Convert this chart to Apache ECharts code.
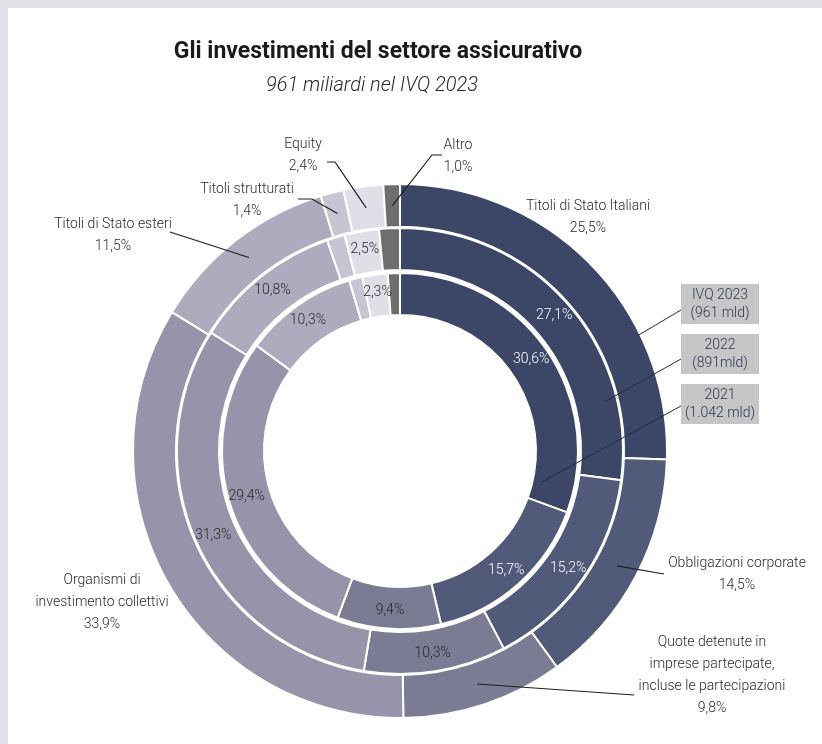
<!DOCTYPE html>
<html>
<head>
<meta charset="utf-8">
<script src="https://cdn.jsdelivr.net/npm/echarts@6/dist/echarts.min.js"></script>
<style>
html,body{margin:0;padding:0;background:#fff;}
#chart{width:822px;height:744px;}
</style>
</head>
<body>
<div id="chart"></div>
<script>
// ---- data ----
const categories = [
  'Titoli di Stato Italiani',
  'Obbligazioni corporate',
  'Quote detenute in\nimprese partecipate,\nincluse le partecipazioni',
  'Organismi di\ninvestimento collettivi',
  'Titoli di Stato esteri',
  'Titoli strutturati',
  'Equity',
  'Altro'
];
const values2023 = [25.5, 14.5, 9.8, 33.9, 11.5, 1.4, 2.4, 1.0];
const values2022 = [27.1, 15.2, 10.3, 31.3, 10.8, 1.3, 2.5, 1.5];
const values2021 = [30.6, 15.7, 9.4, 29.4, 10.3, 1.2, 2.3, 1.1];
const ringLabels = ['IVQ 2023\n(961 mld)', '2022\n(891mld)', '2021\n(1.042 mld)'];
const titleText = 'Gli investimenti del settore assicurativo';
const subtitleText = '961 miliardi nel IVQ 2023';

// ---- styles / layout ----
const colors = ['#3c4767', '#525a79', '#7c7b94', '#9594aa', '#adacbf', '#c6c5d3', '#e0dfe7', '#6e6e6e'];
const insideTextColor = ['#ffffff', '#ffffff', '#2a2a2a', '#2a2a2a', '#2a2a2a', '#2a2a2a', '#2a2a2a', '#2a2a2a'];
const hideInside = [false, false, false, false, false, true, false, true];
const FONT = "'Roboto', 'Liberation Sans', sans-serif";
const CX = 400, CY = 451;
const R_OUT = [224, 267], R_MID = [181, 223], R_IN = [136, 178];
// outer label block centres
const outerLabelPos = [[588, 217], [737, 574], [712, 675], [102, 602], [113, 235], [247, 200], [303, 155], [458, 156]];
// leader lines: elbow/end points (start is computed from data at the slice mid-angle)
const leaderPts = [null, [[664, 574]], [[634, 695]], null, [[170, 232]], [[312, 199], [298, 199]], [[335, 162], [327, 162]], [[432, 155], [442, 155]]];
// year callouts
const boxes = [
  {x: 681, y: 284, line: [[681, 310], [637, 336]]},
  {x: 681, y: 334, line: [[681, 359], [606, 401]]},
  {x: 681, y: 384, line: [[681, 406], [540, 483]]}
];

const fmt = v => v.toFixed(1).replace('.', ',') + '%';

function ringData(vals, inside) {
  return vals.map((v, i) => ({
    name: categories[i],
    value: v,
    itemStyle: {color: colors[i]},
    label: inside ? {show: !hideInside[i], color: insideTextColor[i]} : {}
  }));
}

const chart = echarts.init(document.getElementById('chart'), null, {renderer: 'canvas'});

const total = values2023.reduce((a, b) => a + b, 0);
const graphics = [];
graphics.push({type: 'rect', shape: {x: 0, y: 0, width: 822, height: 8}, style: {fill: '#e1e0e8'}, silent: true});
graphics.push({type: 'rect', shape: {x: 0, y: 0, width: 8, height: 744}, style: {fill: '#e1e0e8'}, silent: true});
let cum = 0;
const rMidOuter = (R_OUT[0] + R_OUT[1]) / 2;
values2023.forEach((v, i) => {
  const mid = (cum + v / 2) / total * Math.PI * 2;
  cum += v;
  if (!leaderPts[i]) return;
  const start = [CX + rMidOuter * Math.sin(mid), CY - rMidOuter * Math.cos(mid)];
  graphics.push({
    type: 'polyline', z: 100,
    shape: {points: [start].concat(leaderPts[i])},
    style: {stroke: '#1e1e1e', lineWidth: 1.2, fill: null}, silent: true
  });
});
boxes.forEach((b, k) => {
  graphics.push({
    type: 'polyline', z: 100,
    shape: {points: b.line},
    style: {stroke: '#1f2a4a', lineWidth: 1, fill: null}, silent: true
  });
  graphics.push({
    type: 'rect', z: 100, shape: {x: b.x, y: b.y, width: 78, height: 40},
    style: {fill: '#c6c6c6'}, silent: true
  });
  graphics.push({
    type: 'text', z: 101, x: b.x + 39, y: b.y + 20,
    style: {text: ringLabels[k], fill: '#2b3657', font: '300 14px ' + FONT, align: 'center', verticalAlign: 'middle', lineHeight: 18},
    silent: true
  });
});

const insideLabel = {
  show: true, position: 'inside', fontFamily: FONT, fontSize: 14, fontWeight: 300,
  formatter: p => fmt(p.value)
};

chart.setOption({
  backgroundColor: '#ffffff',
  animation: false,
  title: [
    {text: titleText, left: 373, top: 36, textAlign: 'center',
     textStyle: {fontFamily: FONT, fontWeight: 'bold', fontSize: 23, color: '#1a1a1a'}},
    {text: subtitleText, left: 367, top: 71, textAlign: 'center',
     textStyle: {fontFamily: FONT, fontStyle: 'italic', fontWeight: 300, fontSize: 20, color: '#2a2a2a'}}
  ],
  graphic: graphics,
  series: [
    {
      type: 'pie', name: '2023', center: [CX, CY], radius: R_OUT,
      startAngle: 90, clockwise: true, avoidLabelOverlap: false,
      itemStyle: {borderColor: '#fff', borderWidth: 2},
      label: {
        show: true, position: 'outside', fontFamily: FONT, fontSize: 14, fontWeight: 300, color: '#2a2a2a',
        lineHeight: 22, align: 'center',
        formatter: p => p.name + '\n' + fmt(p.value)
      },
      labelLine: {show: false},
      labelLayout: p => ({x: outerLabelPos[p.dataIndex][0], y: outerLabelPos[p.dataIndex][1], align: 'center', verticalAlign: 'middle'}),
      emphasis: {disabled: true},
      data: ringData(values2023, false)
    },
    {
      type: 'pie', name: '2022', center: [CX, CY], radius: R_MID,
      startAngle: 90, clockwise: true,
      itemStyle: {borderColor: '#fff', borderWidth: 2},
      label: insideLabel, labelLine: {show: false},
      emphasis: {disabled: true},
      data: ringData(values2022, true)
    },
    {
      type: 'pie', name: '2021', center: [CX, CY], radius: R_IN,
      startAngle: 90, clockwise: true,
      itemStyle: {borderColor: '#fff', borderWidth: 2},
      label: insideLabel, labelLine: {show: false},
      emphasis: {disabled: true},
      data: ringData(values2021, true)
    }
  ]
});
</script>
</body>
</html>
